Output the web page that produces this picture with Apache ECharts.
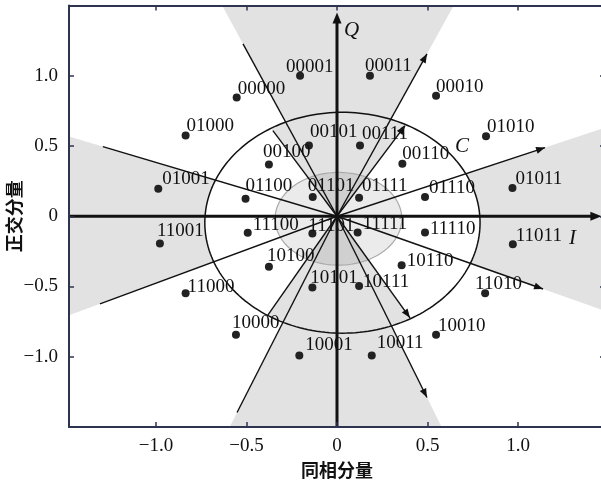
<!DOCTYPE html>
<html><head><meta charset="utf-8">
<script src="https://cdn.jsdelivr.net/npm/echarts@6/dist/echarts.min.js"></script>
<style>html,body{margin:0;padding:0;background:#fff}#c{width:601px;height:482px}</style>
</head><body><div id="c"></div>
<script>
// ---- data ----
const codes = ['00000','00001','00010','00011','00100','00101','00110','00111',
  '01000','01001','01010','01011','01100','01101','01110','01111',
  '10000','10001','10010','10011','10100','10101','10110','10111',
  '11000','11001','11010','11011','11100','11101','11110','11111'];
const xs = [-0.554,-0.204,0.547,0.182,-0.376,-0.155,0.361,0.127,
  -0.836,-0.987,0.823,0.969,-0.505,-0.134,0.486,0.122,
  -0.558,-0.208,0.547,0.192,-0.376,-0.136,0.357,0.122,
  -0.836,-0.978,0.818,0.971,-0.493,-0.136,0.486,0.114];
const ys = [0.846,1.000,0.858,1.000,0.369,0.504,0.374,0.504,
  0.574,0.196,0.570,0.201,0.125,0.137,0.137,0.132,
  -0.844,-0.991,-0.844,-0.991,-0.359,-0.508,-0.348,-0.496,
  -0.548,-0.194,-0.548,-0.199,-0.118,-0.123,-0.116,-0.116];
const tickValues = [-1, -0.5, 0, 0.5, 1];
const tickLabels = ['\u22121.0','\u22120.5','0','0.5','1.0'];
// vector end points (data units)
const arrowEnds = [[0.497,1.156],[0.376,0.645],[1.149,0.489],[1.138,-0.518],[0.403,-0.723],[0.497,-1.290]];
const lineEnds = [[-0.519,1.227],[-0.354,0.610],[-1.293,0.496],[-1.309,-0.624],[-0.381,-0.702],[-0.552,-1.397]];
const bigEllipse = [0.030,-0.046,0.760,0.786];   // cx, cy, rx, ry
const smallEllipse = [0.008,-0.018,0.350,0.330];
const annotations = [['Q',0.08,1.32],['I',1.30,-0.16],['C',0.69,0.50]];

// ---- layout (label offsets in px: text-left minus dot-x, baseline minus dot-y) ----
const labelDx = [1,-14,0,-5,-6,1,0,2, 1,4,1,3,0,-5,4,3, -4,6,2,5,-2,-2,5,4, 2,-3,-10,3,5,-4,5,5];
const labelDb = [-2,-2,-2,-3,-6,-7,-3,-5, -3,-3,-3,-3,-6,-5,-3,-5, -5,-4,-2,-6,-4,-3,2,2, 0,-6,-3,-2,-1,-1,3,-2];

const GRAY = '#e2e2e2';
const chart = echarts.init(document.getElementById('c'), null, {renderer:'canvas'});

function ellipsePts(api, e, n){
  const pts=[];
  for(let i=0;i<n;i++){const t=2*Math.PI*i/n;pts.push(api.coord([e[0]+e[2]*Math.cos(t), e[1]+e[3]*Math.sin(t)]));}
  return pts;
}
function rayHit(e, ang){
  const c=Math.cos(ang), s=Math.sin(ang);
  const A=(c*c)/(e[2]*e[2])+(s*s)/(e[3]*e[3]);
  const B=-2*((c*e[0])/(e[2]*e[2])+(s*e[1])/(e[3]*e[3]));
  const C=(e[0]*e[0])/(e[2]*e[2])+(e[1]*e[1])/(e[3]*e[3])-1;
  const t=(-B+Math.sqrt(B*B-4*A*C))/(2*A);
  return [t*c,t*s];
}
function renderAll(params, api){
  const ch=[];
  const O=api.coord([0,0]);
  const far=(v)=>api.coord([v[0]*6,v[1]*6]);
  // outer sectors (long vectors)
  const outer=[[lineEnds[0],arrowEnds[0]],[arrowEnds[2],arrowEnds[3]],[lineEnds[5],arrowEnds[5]],[lineEnds[2],lineEnds[3]]];
  outer.forEach(p=>ch.push({type:'polygon',shape:{points:[O,far(p[0]),far(p[1])]},style:{fill:GRAY}}));
  // white interior of big ellipse
  ch.push({type:'polygon',shape:{points:ellipsePts(api,bigEllipse,200)},style:{fill:'#fff'}});
  // inner sectors (short vectors) clipped to big ellipse
  const inner=[[arrowEnds[1],lineEnds[1]],[lineEnds[4],arrowEnds[4]]];
  inner.forEach(p=>{
    let a1=Math.atan2(p[0][1],p[0][0]), a2=Math.atan2(p[1][1],p[1][0]);
    if(a2<a1) a2+=2*Math.PI;
    const pts=[O];
    for(let i=0;i<=40;i++){const a=a1+(a2-a1)*i/40;pts.push(api.coord(rayHit(bigEllipse,a)));}
    ch.push({type:'polygon',shape:{points:pts},style:{fill:GRAY}});
  });
  // small ellipse
  ch.push({type:'polygon',shape:{points:ellipsePts(api,smallEllipse,160)},style:{fill:'rgba(0,0,0,0.08)',stroke:'#aaaaaa',lineWidth:1.2}});
  // vectors
  const seg=(end,arrow)=>{
    const P=api.coord(end);
    ch.push({type:'line',shape:{x1:O[0],y1:O[1],x2:P[0],y2:P[1]},style:{stroke:'#111',lineWidth:1.4}});
    if(arrow){
      const dx=P[0]-O[0],dy=P[1]-O[1],L=Math.hypot(dx,dy),ux=dx/L,uy=dy/L;
      const bx=P[0]-ux*9,by=P[1]-uy*9;
      ch.push({type:'polygon',shape:{points:[[P[0],P[1]],[bx-uy*3.5,by+ux*3.5],[bx+uy*3.5,by-ux*3.5]]},style:{fill:'#111'}});
    }
  };
  lineEnds.forEach(e=>seg(e,false));
  arrowEnds.forEach(e=>seg(e,true));
  // big ellipse stroke
  ch.push({type:'polygon',shape:{points:ellipsePts(api,bigEllipse,200)},style:{fill:'none',stroke:'#111',lineWidth:1.5}});
  // main axes with arrows
  const axLine=(a,b)=>{
    const A=api.coord(a),B=api.coord(b);
    const dx=B[0]-A[0],dy=B[1]-A[1],L=Math.hypot(dx,dy),ux=dx/L,uy=dy/L;
    const bx=B[0]-ux*11,by=B[1]-uy*11;
    ch.push({type:'line',shape:{x1:A[0],y1:A[1],x2:bx+ux*2,y2:by+uy*2},style:{stroke:'#111',lineWidth:3}});
    ch.push({type:'polygon',shape:{points:[[B[0],B[1]],[bx-uy*4.5,by+ux*4.5],[bx+uy*4.5,by-ux*4.5]]},style:{fill:'#111'}});
  };
  axLine([-1.5,0],[1.46,0]);
  axLine([0,-1.55],[0,1.45]);
  annotations.forEach(a=>{
    const P=api.coord([a[1],a[2]]);
    ch.push({type:'text',x:P[0],y:P[1],style:{text:a[0],fill:'#111',font:'italic 21px "Liberation Serif", serif',align:'center',verticalAlign:'middle'}});
  });
  return {type:'group',children:ch};
}

const scatterData = codes.map((c,i)=>({
  value:[xs[i],ys[i]],
  label:{show:true,formatter:c,position:[4+labelDx[i],4+labelDb[i]-6.4],align:'left',verticalAlign:'middle',
    color:'#111',opacity:1,fontFamily:'"Liberation Serif", serif',fontSize:19}
}));

const lblFmt = v => { const k=tickValues.findIndex(t=>Math.abs(t-v)<1e-6); return k>=0?tickLabels[k]:''; };
const frameColor = '#2e3450';
const baseAxis = {type:'value', z:10,
  axisLine:{show:true,onZero:false,lineStyle:{color:frameColor,width:2}},
  splitLine:{show:false},
  axisTick:{show:true,inside:true,length:5,customValues:tickValues,lineStyle:{color:frameColor,width:1.5}}};

chart.setOption({
  animation:false,
  grid:{left:69,top:5.5,width:536,height:421.5,containLabel:false,outerBoundsMode:'none'},
  xAxis:[
    Object.assign({},baseAxis,{position:'bottom',min:-1.48,max:1.48,
      axisLabel:{customValues:tickValues,formatter:lblFmt,margin:10,color:'#111',fontFamily:'"Liberation Serif", serif',fontSize:19},
      name:'同相分量',nameLocation:'middle',nameGap:34,nameMoveOverlap:false,
      nameTextStyle:{color:'#111',fontFamily:'"Noto Sans CJK SC"',fontWeight:'bold',fontSize:18}}),
    Object.assign({},baseAxis,{position:'top',min:-1.48,max:1.48,axisLabel:{show:false}})
  ],
  yAxis:[
    Object.assign({},baseAxis,{position:'left',min:-1.5,max:1.5,
      axisLabel:{customValues:tickValues,formatter:lblFmt,margin:11,color:'#111',fontFamily:'"Liberation Serif", serif',fontSize:19},
      name:'正交分量',nameLocation:'middle',nameGap:46,nameMoveOverlap:false,
      nameTextStyle:{color:'#111',fontFamily:'"Noto Sans CJK SC"',fontWeight:'bold',fontSize:18}}),
    Object.assign({},baseAxis,{position:'right',min:-1.5,max:1.5,axisLabel:{show:false}})
  ],
  series:[
    {type:'custom',coordinateSystem:'cartesian2d',xAxisIndex:0,yAxisIndex:0,clip:true,silent:true,z:1,
     data:[[0,0]],renderItem:renderAll},
    {type:'scatter',xAxisIndex:0,yAxisIndex:0,symbol:'circle',symbolSize:8,z:5,silent:true,
     itemStyle:{color:'#222',opacity:1},data:scatterData}
  ]
});
</script></body></html>
